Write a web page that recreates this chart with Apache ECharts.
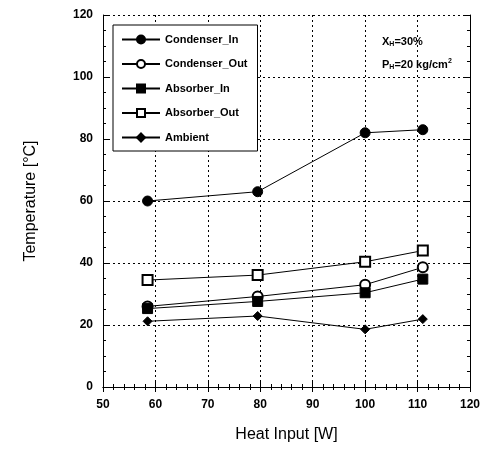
<!DOCTYPE html>
<html>
<head>
<meta charset="utf-8">
<script src="https://cdn.jsdelivr.net/npm/echarts@6/dist/echarts.min.js"></script>
<style>
  html, body { margin: 0; padding: 0; background: #fff; }
  #chart { width: 483px; height: 452px; }
</style>
</head>
<body>
<div id="chart"></div>
<script>
// heat input (W)
const heatInput = [58.5, 79.5, 100, 111];

// temperatures (°C)
const condenserIn = [60, 63, 82, 83];
const condenserOut = [26, 29.2, 33, 38.6];
const absorberIn = [25.3, 27.6, 30.4, 34.8];
const absorberOut = [34.5, 36.1, 40.4, 44];
const ambient = [21.2, 22.9, 18.6, 21.9];

const seriesNames = ['Condenser_In', 'Condenser_Out', 'Absorber_In', 'Absorber_Out', 'Ambient'];
const seriesValues = [condenserIn, condenserOut, absorberIn, absorberOut, ambient];
const seriesSymbols = ['circle', 'emptyCircle', 'rect', 'emptyRect', 'diamond'];
const seriesSizes = [10, 10, 10, 10, 9];

const myChart = echarts.init(document.getElementById('chart'));

const tickFont = {
    color: '#000',
    fontFamily: 'Liberation Sans',
    fontWeight: 'bold',
    fontSize: 12,
};

const option = {
    animation: false,
    grid: {
        left: 103,
        right: 12,
        top: 15,
        bottom: 65,
        show: false,
    },
    legend: {
        orient: 'vertical',
        left: 113,
        top: 25,
        width: 144,
        padding: [9, 10, 8, 8],
        itemGap: 13.5,
        itemWidth: 38,
        itemHeight: 10,
        backgroundColor: '#fff',
        borderColor: '#000',
        borderWidth: 1,
        data: seriesNames,
        textStyle: {
            color: '#000',
            fontFamily: 'Liberation Sans',
            fontWeight: 'bold',
            fontSize: 11,
        },
    },
    xAxis: [{
        type: 'value',
        min: 50,
        max: 120,
        interval: 10,
        name: 'Heat Input [W]',
        nameLocation: 'middle',
        nameGap: 40,
        nameTextStyle: {
            color: '#000',
            fontFamily: 'Liberation Sans',
            fontSize: 16,
        },
        axisLine: { show: true, lineStyle: { color: '#000', width: 1 } },
        axisTick: { show: true, inside: true, length: 5, lineStyle: { color: '#000' } },
        minorTick: { show: true, splitNumber: 5, length: 3, lineStyle: { color: '#000' } },
        axisLabel: Object.assign({ margin: 12 }, tickFont),
        splitLine: {
            show: true,
            lineStyle: { color: '#000', type: [2, 3], width: 1 },
        },
    }, {
        type: 'value',
        position: 'top',
        min: 50,
        max: 120,
        interval: 10,
        axisLine: { show: true, lineStyle: { color: '#000', width: 1 } },
        axisTick: { show: true, inside: true, length: 5, lineStyle: { color: '#000' } },
        minorTick: { show: true, splitNumber: 5, length: 3, lineStyle: { color: '#000' } },
        axisLabel: { show: false },
        splitLine: { show: false },
    }],
    yAxis: [{
        type: 'value',
        min: 0,
        max: 120,
        interval: 20,
        name: 'Temperature [°C]',
        nameLocation: 'middle',
        nameGap: 64,
        nameTextStyle: {
            color: '#000',
            fontFamily: 'Liberation Sans',
            fontSize: 16,
        },
        axisLine: { show: true, lineStyle: { color: '#000', width: 1 } },
        axisTick: { show: true, inside: true, length: 5, lineStyle: { color: '#000' } },
        minorTick: { show: true, splitNumber: 4, length: 3, lineStyle: { color: '#000' } },
        axisLabel: Object.assign({ margin: 10 }, tickFont),
        splitLine: {
            show: true,
            lineStyle: { color: '#000', type: [2, 3], width: 1 },
        },
    }, {
        type: 'value',
        position: 'right',
        min: 0,
        max: 120,
        interval: 20,
        axisLine: { show: true, lineStyle: { color: '#000', width: 1 } },
        axisTick: { show: true, inside: true, length: 5, lineStyle: { color: '#000' } },
        minorTick: { show: true, splitNumber: 4, length: 3, lineStyle: { color: '#000' } },
        axisLabel: { show: false },
        splitLine: { show: false },
    }],
    graphic: [{
        type: 'text',
        left: 382,
        top: 36,
        style: {
            text: '{b|X}{s|H}{b|=30%}',
            rich: {
                b: { fontFamily: 'Liberation Sans', fontWeight: 'bold', fontSize: 11, fill: '#000' },
                s: { fontFamily: 'Liberation Sans', fontWeight: 'bold', fontSize: 7, fill: '#000', verticalAlign: 'bottom', padding: [6, 0, 0, 0] },
            },
        },
    }, {
        type: 'text',
        left: 382,
        top: 58,
        style: {
            text: '{b|P}{s|H}{b|=20 kg/cm}{u|2}',
            rich: {
                b: { fontFamily: 'Liberation Sans', fontWeight: 'bold', fontSize: 11, fill: '#000' },
                s: { fontFamily: 'Liberation Sans', fontWeight: 'bold', fontSize: 7, fill: '#000', verticalAlign: 'bottom', padding: [6, 0, 0, 0] },
                u: { fontFamily: 'Liberation Sans', fontWeight: 'bold', fontSize: 7, fill: '#000', verticalAlign: 'top', padding: [0, 0, 6, 0] },
            },
        },
    }],
    series: seriesNames.map((name, i) => ({
        name: name,
        type: 'line',
        data: heatInput.map((x, j) => [x, seriesValues[i][j]]),
        symbol: seriesSymbols[i],
        symbolSize: seriesSizes[i],
        showSymbol: true,
        color: '#000',
        lineStyle: { color: '#000', width: 1 },
        itemStyle: { color: '#000', borderColor: '#000', borderWidth: 1 },
        z: 3,
    })),
};

myChart.setOption(option);
</script>
</body>
</html>
